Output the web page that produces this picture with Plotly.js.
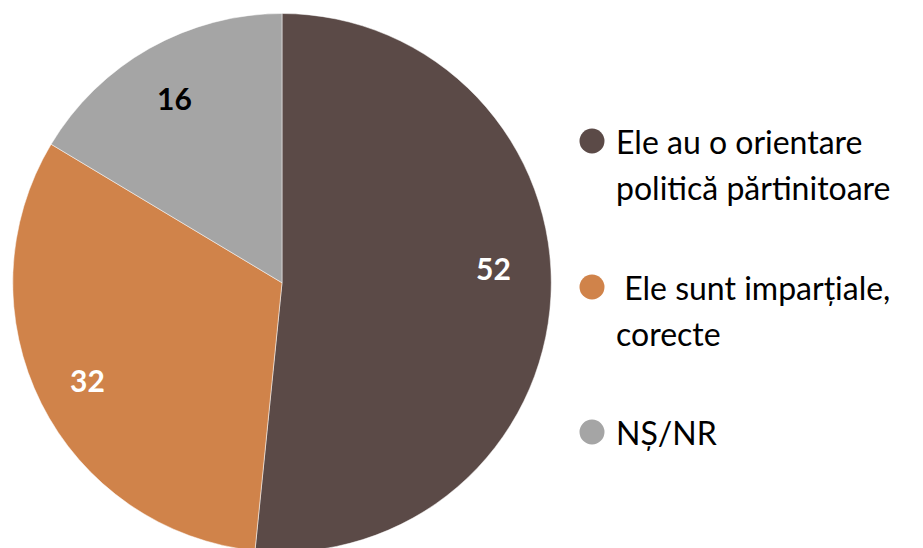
<!DOCTYPE html>
<html>
<head>
<meta charset="utf-8">
<script src="https://cdn.plot.ly/plotly-3.0.1.min.js"></script>
<style>html,body{margin:0;padding:0;background:#fff;overflow:hidden;}#wrap{width:923px;height:548px;overflow:hidden;}</style>
</head>
<body>
<div id="wrap"><div id="chart"></div></div>
<script>
// Data
const categories = ["Ele au o orientare<br>politică părtinitoare", "\u00a0Ele sunt imparțiale,<br>corecte", "NȘ/NR"];
const values = [51.6, 32.0, 16.4];
const colors = ["#5B4A47", "#D0834A", "#A5A5A5"];
const labelColors = ["#FFFFFF", "#FFFFFF", "#000000"];

const W = 923, H = 552; // pie slightly cropped at the bottom of the 548px window
const FONT = "Lato, 'Noto Sans', sans-serif";

// pie geometry (layout)
const PCX = 282, PR = 269.25, PTOP = 13.5;
const PCY = PTOP + PR;

const pie = {
  type: "pie",
  values: values,
  labels: categories,
  sort: false,
  direction: "clockwise",
  rotation: 0,
  marker: { colors: colors, line: { color: "#FFFFFF", width: 0.5 } },
  textinfo: "none",
  hoverinfo: "none",
  showlegend: false,
  domain: { x: [(PCX - PR) / W, (PCX + PR) / W], y: [0, 1 - PTOP / H] }
};

const shapes = [];
const annotations = [];

// Data labels placed along each slice's mid-angle (best-fit style nudges)
const angleNudge = [-6.9, 0, -0.6];
const radialPos = [0.786, 0.808, 0.794];
const total = values.reduce((a, b) => a + b, 0);
let cum = 0;
values.forEach((v, i) => {
  const mid = (cum + v / 2) / total * 360 + angleNudge[i];
  cum += v;
  const a = mid * Math.PI / 180;
  const px = PCX + radialPos[i] * PR * Math.sin(a);
  const py = PCY - radialPos[i] * PR * Math.cos(a);
  annotations.push({
    xref: "paper", yref: "paper", x: px / W, y: 1 - py / H,
    xanchor: "center", yanchor: "middle", showarrow: false,
    text: String(Math.round(v)),
    font: { family: FONT, size: 30, color: labelColors[i], weight: "bold" }
  });
});

// Legend built with shapes + annotations (circle markers)
const legendCY = [141, 287, 432];
const lineGap = 46;
categories.forEach((c, i) => {
  const cx = 592, cy = legendCY[i], r = 12.5;
  shapes.push({
    type: "circle", xref: "paper", yref: "paper",
    x0: (cx - r) / W, x1: (cx + r) / W,
    y0: 1 - (cy + r) / H, y1: 1 - (cy - r) / H,
    fillcolor: colors[i], line: { width: 0 }
  });
  c.split("<br>").forEach((line, j) => {
    annotations.push({
      xref: "paper", yref: "paper",
      x: 614 / W, y: 1 - (cy + j * lineGap) / H,
      xanchor: "left", yanchor: "middle",
      text: line, showarrow: false,
      font: { family: FONT, size: 32, color: "#000000" }
    });
  });
});

const layout = {
  width: W, height: H,
  margin: { l: 0, r: 0, t: 0, b: 0 },
  paper_bgcolor: "#FFFFFF",
  plot_bgcolor: "#FFFFFF",
  showlegend: false,
  shapes: shapes,
  annotations: annotations
};

Plotly.newPlot("chart", [pie], layout, { displayModeBar: false, staticPlot: true });
</script>
</body>
</html>
